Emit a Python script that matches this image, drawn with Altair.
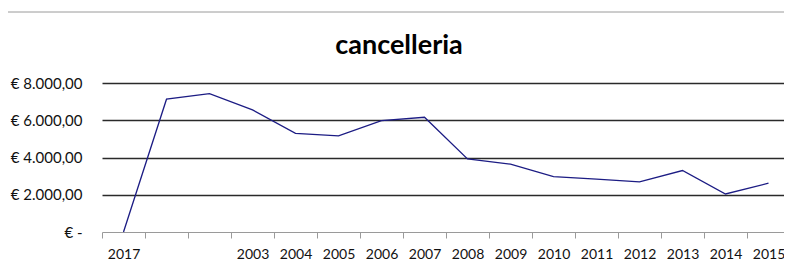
import altair as alt
import pandas as pd

labels = ["2017", "", "", "2003", "2004", "2005", "2006", "2007", "2008",
          "2009", "2010", "2011", "2012", "2013", "2014", "2015"]
values = [0, 7130, 7430, 6560, 5300, 5160, 5980, 6160, 3920,
          3640, 2970, 2840, 2690, 3300, 2040, 2620]
y_ticks = [0, 2000, 4000, 6000, 8000]
title_text = "cancelleria"

keys = [lab if lab else "\u00a0" * (i + 1) for i, lab in enumerate(labels)]
df = pd.DataFrame({"cat": keys, "v": values})

FONT = "Lato"

y_label_expr = (
    "datum.value == 0 ? '€ -\u00a0\u00a0\u00a0' : "
    "'€ ' + replace(replace(replace(format(datum.value, ',.2f'), ',', '#'), '.', ','), '#', '.')"
)

line = alt.Chart(df).mark_line(color="#1c1c84", strokeWidth=1.3).encode(
    x=alt.X("cat:N", sort=keys,
            scale=alt.Scale(type="band", paddingInner=0, paddingOuter=0),
            axis=alt.Axis(title=None, labelAngle=0, tickBand="extent", ticks=True,
                          tickSize=6, tickColor="#9a9a9a", tickWidth=1,
                          domainColor="#9a9a9a", domainWidth=1,
                          labelPadding=9, grid=False, labelFont=FONT,
                          labelFontSize=14, labelColor="#111")),
    y=alt.Y("v:Q", scale=alt.Scale(domain=[0, 8000], nice=False),
            axis=alt.Axis(title=None, values=y_ticks, labelExpr=y_label_expr,
                          ticks=False, domain=False, labelPadding=20,
                          labelFont=FONT, labelFontSize=15, labelColor="#111",
                          grid=True, gridColor="#2a2a2a", gridWidth=1.3,
                          gridOpacity=alt.condition("datum.value == 0", alt.value(0), alt.value(1)))),
)

border = alt.Chart(pd.DataFrame({"a": [0]})).mark_rule(color="#9a9a9a", strokeWidth=1).encode(
    x=alt.value(-94), x2=alt.value(682), y=alt.value(-71)
)

chart = alt.layer(border, line).properties(
    width=688, height=149,
    title=alt.TitleParams(title_text, font=FONT, fontSize=27, fontWeight="bold",
                          color="#000", anchor="middle", frame="bounds", offset=-48),
    autosize=alt.AutoSizeParams(type="none"),
    padding={"left": 94, "top": 75, "right": -6, "bottom": 30},
).configure_view(stroke=None)

chart.save("out.html", embed_options={"renderer": "svg", "actions": False})
